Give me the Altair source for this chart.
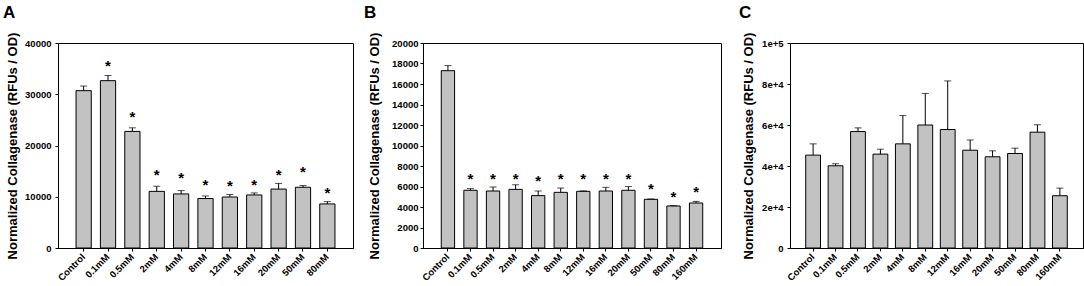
import altair as alt
import pandas as pd

FONT = "Liberation Sans"
TITLE = "Normalized Collagenase (RFUs / OD)"

# ---- Panel A ----
a_groups = ["Control", "0.1mM", "0.5mM", "2mM", "4mM", "8mM", "12mM", "16mM", "20mM", "50mM", "80mM"]
a_means = [30700, 32650, 22750, 11050, 10550, 9650, 9950, 10350, 11500, 11850, 8600]
a_errs = [900, 1000, 700, 1000, 650, 500, 500, 400, 1100, 330, 450]
a_stars = [None, 36300, 26350, 15000, 14400, 13000, 12800, 13000, 15000, 15550, 11500]
a_ticks = [0, 10000, 20000, 30000, 40000]

# ---- Panel B ----
b_groups = ["Control", "0.1mM", "0.5mM", "2mM", "4mM", "8mM", "12mM", "16mM", "20mM", "50mM", "80mM", "160mM"]
b_means = [17300, 5630, 5560, 5720, 5110, 5430, 5530, 5560, 5630, 4750, 4100, 4390]
b_errs = [500, 160, 390, 450, 450, 420, 40, 360, 360, 30, 30, 160]
b_stars = [None, 7100, 7100, 7150, 6900, 7150, 7150, 7150, 7150, 6100, 5350, 5850]
b_ticks = [0, 2000, 4000, 6000, 8000, 10000, 12000, 14000, 16000, 18000, 20000]

# ---- Panel C ----
c_groups = ["Control", "0.1mM", "0.5mM", "2mM", "4mM", "8mM", "12mM", "16mM", "20mM", "50mM", "80mM", "160mM"]
c_means = [45300, 40100, 56800, 45800, 50800, 60000, 57800, 47700, 44500, 46100, 56500, 25500]
c_errs = [5500, 1000, 1800, 2400, 13800, 15400, 23700, 5000, 2900, 2600, 3600, 3700]
c_stars = [None] * 12
c_ticks = [0, 20000, 40000, 60000, 80000, 100000]

H = 205


def panel(groups, means, errs, stars, ymax, yticks, width, letter, left_bound,
          letter_x, title_x, label_pad, pad_inner, pad_outer, label_expr):
    df = pd.DataFrame({
        "group": groups,
        "mean": means,
        "top": [m + e for m, e in zip(means, errs)],
        "star": stars,
    })
    xscale = alt.Scale(paddingInner=pad_inner, paddingOuter=pad_outer)
    xaxis = alt.Axis(title=None, labelAngle=-45, labelAlign="right", labelBaseline="middle",
                     labelFont=FONT, labelFontWeight="bold", labelFontSize=9.5, labelColor="black",
                     labelPadding=4, tickSize=3, tickColor="black", domainColor="black",
                     labelOverlap=False)
    x = alt.X("group:N", sort=groups, scale=xscale, axis=xaxis)
    yscale = alt.Scale(domain=[0, ymax], nice=False)
    yaxis = alt.Axis(title=TITLE, values=yticks, labelExpr=label_expr, grid=False,
                     labelOverlap=False, labelBound=False,
                     labelFont=FONT, labelFontWeight="bold", labelFontSize=9.5, labelColor="black",
                     labelPadding=label_pad, tickSize=3, tickColor="black", domainColor="black",
                     titleFont=FONT, titleFontWeight="bold", titleFontSize=13, titleColor="black",
                     titleX=title_x, titleY=H / 2, titleAngle=270, titleAlign="center",
                     titleBaseline="middle")

    def Y(field):
        return alt.Y(field, scale=yscale, axis=yaxis)

    base = alt.Chart(df)
    bars = base.mark_bar(fill="#c2c2c2", stroke="black", strokeWidth=1).encode(
        x=x, y=Y("mean:Q"))
    rules = base.mark_rule(color="black", strokeWidth=1).encode(
        x=x, y=Y("mean:Q"), y2="top:Q")
    caps = base.mark_tick(color="black", size=7, thickness=1).encode(
        x=x, y=Y("top:Q"))
    layers = [bars, rules, caps]
    if any(s is not None for s in stars):
        st = base.transform_filter("isValid(datum.star)").mark_text(
            text="*", font=FONT, fontWeight="bold", fontSize=15, color="black",
            baseline="middle", dy=4).encode(x=x, y=Y("star:Q"))
        layers.append(st)
    lab = alt.Chart(pd.DataFrame({"t": [letter]})).mark_text(
        font=FONT, fontWeight="bold", fontSize=17, color="black", align="left",
        baseline="top").encode(text="t:N", x=alt.value(letter_x), y=alt.value(-38))
    inv = alt.Chart(pd.DataFrame({"t": [0]})).mark_rule(opacity=0).encode(
        x=alt.value(left_bound), y=alt.value(0), y2=alt.value(H))
    layers += [lab, inv]
    return alt.layer(*layers).properties(width=width, height=H)


A = panel(a_groups, a_means, a_errs, a_stars, 40000, a_ticks, 295, "A", -57, -55, -46, 4,
          0.375, 0.74, "format(datum.value, 'd')")
B = panel(b_groups, b_means, b_errs, b_stars, 20000, b_ticks, 298, "B", -68.5, -59, -49, 2,
          0.41, 0.81, "format(datum.value, 'd')")
C = panel(c_groups, c_means, c_errs, c_stars, 100000, c_ticks, 293, "C", -67.5, -51, -42, 4,
          0.34, 0.70, "datum.value == 0 ? '0' : format(datum.value, '.0e')")

chart = alt.hconcat(A, B, C, spacing=0).properties(
    padding={"left": 0, "top": 3, "right": 0, "bottom": 0},
    background="white",
).configure_view(stroke="black", strokeWidth=1)

chart.save("out.html", embed_options={"renderer": "svg", "actions": False})
